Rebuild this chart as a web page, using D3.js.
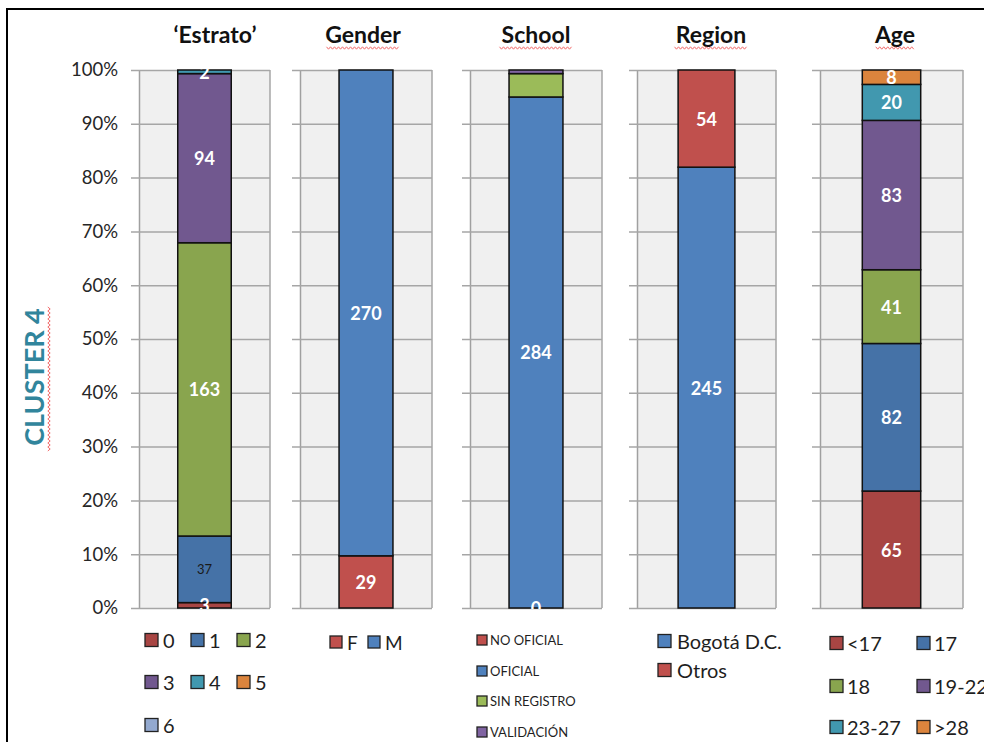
<!DOCTYPE html>
<html>
<head>
<meta charset="utf-8">
<script src="https://cdn.jsdelivr.net/npm/d3@7"></script>
<style>
  body { margin: 0; background: #fff; }
  svg { display: block; }
  text { font-family: Lato, "Open Sans", "DejaVu Sans", sans-serif; }
</style>
</head>
<body>
<svg id="chart" width="984" height="742"></svg>
<script>
// ---- data ----
const panelTitles = ["\u2018Estrato\u2019", "Gender", "School", "Region", "Age"];

const estratoCategories = ["0", "1", "2", "3", "4", "5", "6"];
const estratoValues = [3, 37, 163, 94, 2, null, null];

const genderCategories = ["F", "M"];
const genderValues = [29, 270];

const schoolCategories = ["NO OFICIAL", "OFICIAL", "SIN REGISTRO", "VALIDACIÓN"];
const schoolValues = [0, 284, 13, 2];

const regionCategories = ["Bogotá D.C.", "Otros"];
const regionValues = [245, 54];

const ageCategories = ["<17", "17", "18", "19-22", "23-27", ">28"];
const ageValues = [65, 82, 41, 83, 20, 8];

const tickValues = [0, 0.1, 0.2, 0.3, 0.4, 0.5, 0.6, 0.7, 0.8, 0.9, 1];
const tickLabels = ["0%", "10%", "20%", "30%", "40%", "50%", "60%", "70%", "80%", "90%", "100%"];

const sideTitle = "CLUSTER 4";

// ---- colours ----
const darkPalette = ["#A84543", "#4572A7", "#89A54E", "#71588F", "#4198AF", "#DB843D", "#93A9CF"];
const genderColors = ["#C0504D", "#4F81BD"];
const schoolColors = ["#C0504D", "#4F81BD", "#9BBB59", "#8064A2"];
const regionColors = ["#4F81BD", "#C0504D"];

// ---- layout ----
const yTop = 70, yBottom = 608;
const panels = [
  { cats: estratoCategories, vals: estratoValues, colors: darkPalette, x0: 139, x1: 270, titleX: 215,
    legend: { cols: [145, 191, 237], rows: [640, 682, 725], sw: 13, gap: 18, font: 20 } },
  { cats: genderCategories, vals: genderValues, colors: genderColors, x0: 300, x1: 432, titleX: 363,
    legend: { inline: [330, 368], rows: [642], sw: 12, gap: 17, font: 19 } },
  { cats: schoolCategories, vals: schoolValues, colors: schoolColors, x0: 470, x1: 602, titleX: 536,
    legend: { cols: [477], rows: [640, 671, 701, 732], sw: 10, gap: 13, font: 13 } },
  { cats: regionCategories, vals: regionValues, colors: regionColors, x0: 637, x1: 776, titleX: 711,
    legend: { cols: [658], rows: [641, 670], sw: 13, gap: 19, font: 20 } },
  { cats: ageCategories, vals: ageValues, colors: darkPalette, x0: 820, x1: 963, titleX: 895,
    legend: { cols: [830, 917], rows: [643, 686, 727], sw: 13, gap: 17, font: 20 } }
];

// labels drawn in a quieter style, and segments left without a label
const quietLabels = new Set(["0:1"]);
const unlabeled = new Set(["2:2", "2:3"]);

const svg = d3.select("#chart");
const y = d3.scaleLinear().domain([0, 1]).range([yBottom, yTop]);

svg.append("defs").append("clipPath").attr("id", "labelClip")
  .append("rect").attr("x", 0).attr("y", 0).attr("width", 984).attr("height", yBottom + 1);

// outer frame
svg.append("rect").attr("x", 7).attr("y", 9).attr("width", 990).attr("height", 760)
  .attr("fill", "none").attr("stroke", "#000").attr("stroke-width", 2);

// red squiggle under a word
function squiggle(x0, x1, yy, vertical) {
  const pts = [];
  const step = 2;
  let i = 0;
  for (let t = x0; t <= x1; t += step, i++) {
    const off = (i % 2 === 0) ? -1.2 : 1.2;
    pts.push(vertical ? [yy + off, t] : [t, yy + off]);
  }
  svg.append("path").attr("d", d3.line()(pts))
    .attr("fill", "none").attr("stroke", "#F26B6B").attr("stroke-width", 1);
}

panels.forEach((p, pi) => {
  const g = svg.append("g");
  const x = d3.scaleBand().domain([panelTitles[pi]]).range([p.x0, p.x1])
    .paddingInner(0.42).paddingOuter(0.42);

  // plot background
  g.append("rect").attr("x", p.x0).attr("y", yTop).attr("width", p.x1 - p.x0)
    .attr("height", yBottom - yTop).attr("fill", "#F0F0F0");

  // gridlines + tick stubs
  const axis = d3.axisLeft(y).tickValues(tickValues).tickSize(-(p.x1 - p.x0)).tickSizeOuter(0)
    .tickFormat((d, i) => pi === 0 ? tickLabels[i] : "");
  const ag = g.append("g").attr("transform", `translate(${p.x0},0)`).call(axis);
  ag.select(".domain").attr("stroke", "#A0A0A0").attr("stroke-width", 1.5);
  ag.selectAll(".tick line").attr("stroke", "#A6A6A6").attr("stroke-width", 1.5)
    .attr("x1", -8).attr("x2", p.x1 - p.x0);
  ag.selectAll(".tick text").attr("x", -21).attr("font-size", 18.5).attr("fill", "#262626")
    .attr("font-family", "Lato, sans-serif");
  // right edge
  g.append("line").attr("x1", p.x1).attr("x2", p.x1).attr("y1", yTop).attr("y2", yBottom)
    .attr("stroke", "#A6A6A6").attr("stroke-width", 1.5);

  // stacked segments (share of total)
  const total = d3.sum(p.vals.map(v => v || 0));
  let acc = 0;
  const segs = p.cats.map((c, i) => {
    const v = p.vals[i];
    const s = { cat: c, i, v, y0: acc / total, y1: (acc + (v || 0)) / total };
    acc += (v || 0);
    return s;
  }).filter(s => s.v !== null);

  g.selectAll("rect.seg").data(segs.filter(s => s.v > 0)).join("rect")
    .attr("class", "seg")
    .attr("x", x(panelTitles[pi])).attr("width", x.bandwidth())
    .attr("y", s => y(s.y1)).attr("height", s => y(s.y0) - y(s.y1))
    .attr("fill", s => p.colors[s.i]).attr("stroke", "#111").attr("stroke-width", 1.5);

  const key = s => pi + ":" + s.i;
  g.append("g").attr("clip-path", "url(#labelClip)")
    .selectAll("text").data(segs.filter(s => !unlabeled.has(key(s)))).join("text")
    .attr("x", x(panelTitles[pi]) + x.bandwidth() / 2)
    .attr("y", s => y((s.y0 + s.y1) / 2))
    .attr("text-anchor", "middle").attr("dominant-baseline", "central")
    .attr("font-size", s => quietLabels.has(key(s)) ? 13 : 18)
    .attr("font-weight", s => quietLabels.has(key(s)) ? "normal" : "bold")
    .attr("fill", s => quietLabels.has(key(s)) ? "#1A1A1A" : "#FFFFFF")
    .text(s => s.v);

  // title
  svg.append("text").attr("x", p.titleX).attr("y", 43).attr("text-anchor", "middle")
    .attr("font-size", 23).attr("font-weight", "bold").attr("fill", "#111")
    .text(panelTitles[pi]);
  if (pi > 0) {
    const w = panelTitles[pi].length * 11.5;
    squiggle(p.titleX - w / 2 - 2, p.titleX + w / 2 + 2, 48, false);
  }

  // legend
  const L = p.legend;
  const items = p.cats.map((c, i) => {
    let lx, ly;
    if (L.inline) { lx = L.inline[i]; ly = L.rows[0]; }
    else { lx = L.cols[i % L.cols.length]; ly = L.rows[Math.floor(i / L.cols.length)]; }
    return { c, i, lx, ly };
  });
  const lg = svg.append("g");
  lg.selectAll("rect").data(items).join("rect")
    .attr("x", d => d.lx).attr("y", d => d.ly - L.sw / 2)
    .attr("width", L.sw).attr("height", L.sw)
    .attr("fill", d => p.colors[d.i]).attr("stroke", "#222").attr("stroke-width", 1.3);
  lg.selectAll("text").data(items).join("text")
    .attr("x", d => d.lx + L.gap).attr("y", d => d.ly)
    .attr("dominant-baseline", "central")
    .attr("font-size", L.font).attr("fill", "#1F1F1F")
    .text(d => d.c);
});

// side title
svg.append("text").attr("transform", "translate(44,377) rotate(-90)")
  .attr("text-anchor", "middle").attr("font-size", 27).attr("font-weight", "bold")
  .attr("fill", "#31859C").text(sideTitle);
squiggle(307, 452, 49, true);
</script>
</body>
</html>
